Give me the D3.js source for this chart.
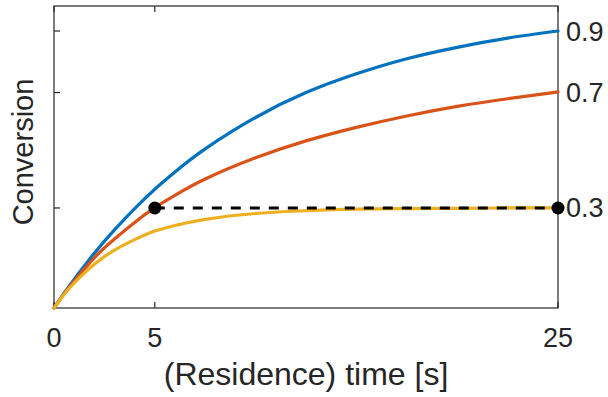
<!DOCTYPE html>
<html>
<head>
<meta charset="utf-8">
<script src="https://cdn.jsdelivr.net/npm/d3@7"></script>
<style>
  html, body { margin: 0; padding: 0; background: #fff; }
  text { font-family: "Liberation Sans", Arial, Helvetica, sans-serif; fill: #262626; }
</style>
</head>
<body>
<div id="chart"></div>
<script>
// data
const times  = [0, 0.5, 1, 2, 3, 4, 5, 6, 7.5, 10, 12.5, 15, 17.5, 20, 22.5, 25];
const blue   = [0, 0.048, 0.093, 0.178, 0.254, 0.323, 0.386, 0.442, 0.517, 0.619, 0.700, 0.761, 0.810, 0.847, 0.877, 0.900];
const orange = [0, 0.046, 0.087, 0.163, 0.224, 0.278, 0.326, 0.366, 0.419, 0.488, 0.543, 0.587, 0.624, 0.655, 0.680, 0.702];
const yellow = [0, 0.044, 0.081, 0.142, 0.188, 0.222, 0.250, 0.268, 0.288, 0.307, 0.316, 0.321, 0.323, 0.324, 0.325, 0.325];
const seriesColors = ['#0072BD', '#D95319', '#EDB120'];
const dashT = [5, 25];
const dashV = 0.325;
const xTicks = [0, 5, 25];
const yTickValues = [0.325, 0.7, 0.9];
const yTickLabels = ['0.3', '0.7', '0.9'];

const W = 608, H = 397;
const x0 = 54, x1 = 558, yBot = 308, yTop = 6;

const svg = d3.select('#chart').append('svg')
  .attr('width', W).attr('height', H);

const x = d3.scaleLinear().domain([0, 25]).range([x0, x1]);
const y = d3.scaleLinear().domain([0, 0.9]).range([yBot, 31]);

const axisCol = '#262626';
const tickLen = 6;

// mirrored inner ticks (drawn first, under the curves)
const ticksG = svg.append('g').attr('stroke', axisCol).attr('stroke-width', 1.2);
xTicks.forEach(t => {
  ticksG.append('line').attr('x1', x(t)).attr('x2', x(t)).attr('y1', yBot).attr('y2', yBot - tickLen);
  ticksG.append('line').attr('x1', x(t)).attr('x2', x(t)).attr('y1', yTop).attr('y2', yTop + tickLen);
});
yTickValues.forEach(v => {
  ticksG.append('line').attr('x1', x0).attr('x2', x0 + tickLen).attr('y1', y(v)).attr('y2', y(v));
  ticksG.append('line').attr('x1', x1).attr('x2', x1 - tickLen).attr('y1', y(v)).attr('y2', y(v));
});

// box
svg.append('rect')
  .attr('x', x0).attr('y', yTop)
  .attr('width', x1 - x0).attr('height', yBot - yTop)
  .attr('fill', 'none').attr('stroke', axisCol).attr('stroke-width', 1.2);

// curves
const line = d3.line()
  .x((d, i) => x(times[i]))
  .y(d => y(d))
  .curve(d3.curveNatural);

[blue, orange, yellow].forEach((s, i) => {
  svg.append('path')
    .datum(s)
    .attr('d', line)
    .attr('fill', 'none')
    .attr('stroke', seriesColors[i])
    .attr('stroke-width', 3.2)
    .attr('stroke-linecap', 'round');
});

// dashed reference line + dots
svg.append('line')
  .attr('x1', x(dashT[0])).attr('x2', x(dashT[1]))
  .attr('y1', y(dashV)).attr('y2', y(dashV))
  .attr('stroke', '#000').attr('stroke-width', 3)
  .attr('stroke-dasharray', '10,9');

svg.selectAll('.dot')
  .data(dashT)
  .enter().append('circle')
  .attr('class', 'dot')
  .attr('cx', d => x(d)).attr('cy', y(dashV))
  .attr('r', 6.5).attr('fill', '#000');

// tick labels
svg.selectAll('.xlab')
  .data(xTicks)
  .enter().append('text')
  .attr('class', 'xlab')
  .attr('x', d => x(d)).attr('y', 347)
  .attr('text-anchor', 'middle')
  .attr('font-size', 27)
  .text(d => d);

svg.selectAll('.ylab')
  .data(yTickValues)
  .enter().append('text')
  .attr('class', 'ylab')
  .attr('x', 566).attr('y', d => y(d) + 9.5)
  .attr('font-size', 27)
  .text((d, i) => yTickLabels[i]);

// axis titles
svg.append('text')
  .attr('x', (x0 + x1) / 2).attr('y', 385)
  .attr('text-anchor', 'middle')
  .attr('font-size', 32)
  .text('(Residence) time [s]');

svg.append('text')
  .attr('transform', 'translate(33,152) rotate(-90)')
  .attr('text-anchor', 'middle')
  .attr('font-size', 29)
  .text('Conversion');
</script>
</body>
</html>
